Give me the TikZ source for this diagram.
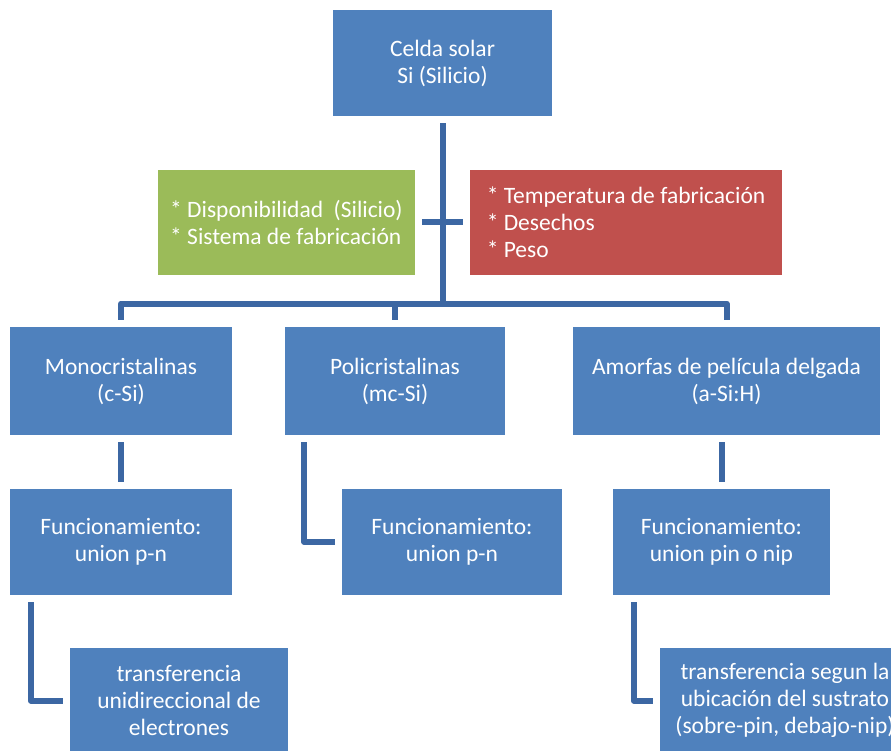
\documentclass[tikz,border=0pt]{standalone}
\usepackage{fontspec}
\setmainfont{Carlito}
\usetikzlibrary{backgrounds}
\definecolor{boxblue}{HTML}{4F81BD}
\definecolor{boxgreen}{HTML}{9BBB59}
\definecolor{boxred}{HTML}{C0504D}
\definecolor{linkblue}{HTML}{3C67A3}
\tikzstyle{cellbox} = [fill=boxblue, draw=none, text=white, rectangle,
align=center, font=\fontsize{23.5}{27}\selectfont, inner sep=4pt]
\tikzstyle{procon} = [cellbox, align=left]
\tikzstyle{link} = [draw=linkblue, line width=6pt, line join=round,
shorten <=7pt, shorten >=7pt]

\begin{document}
\begin{tikzpicture}[x=1pt, y=-1pt]
		\clip (0,0) rectangle (891,751);
		% top
		\node [cellbox, minimum width=219pt, minimum height=106pt] (celda) at (442.5,63)
			{Celda solar\\Si (Silicio)};
		\node [procon, fill=boxgreen, minimum width=257pt, minimum height=105pt] (ventajas) at (286.5,222.5)
			{* Disponibilidad \ (Silicio)\\* Sistema de fabricación};
		\node [procon, fill=boxred, minimum width=312pt, minimum height=105pt] (desventajas) at (626,222.5)
			{* Temperatura de fabricación\\* Desechos\\* Peso};
		% tipos
		\node [cellbox, minimum width=222pt, minimum height=108pt] (mono) at (121,381)
			{Monocristalinas\\(c-Si)};
		\node [cellbox, minimum width=220pt, minimum height=108pt] (poli) at (395,381)
			{Policristalinas\\(mc-Si)};
		\node [cellbox, minimum width=307pt, minimum height=108pt] (amorfa) at (726.5,381)
			{Amorfas de película delgada\\(a-Si:H)};
		% funcionamiento
		\node [cellbox, minimum width=222pt, minimum height=106pt] (funcmono) at (121,542)
			{Funcionamiento:\\union p-n};
		\node [cellbox, minimum width=220pt, minimum height=106pt] (funcpoli) at (452,542)
			{Funcionamiento:\\union p-n};
		\node [cellbox, minimum width=217pt, minimum height=106pt] (funcamorfa) at (721.5,542)
			{Funcionamiento:\\union pin o nip};
		% transferencia
		\node [cellbox, minimum width=218pt, minimum height=105pt] (transmono) at (179,700.5)
			{transferencia\\unidireccional de\\electrones};
		\node [cellbox, minimum width=250pt, minimum height=105pt] (transamorfa) at (785,700.5)
			{transferencia segun la\\ubicación del sustrato\\(sobre-pin, debajo-nip)};
		\begin{scope}[on background layer]
		\coordinate (hub) at (442.5,303.5);
		\draw [link, shorten >=0pt] (celda.south) -- (hub);
		\draw [link] (ventajas.east) -- (desventajas.west);
		\draw [link] (mono.north) -- (mono.north |- hub) -- (amorfa.north |- hub) -- (amorfa.north);
		\draw [link, shorten >=0pt] (poli.north) -- (poli.north |- hub);
		\draw [link] (mono.south) -- (funcmono.north);
		\draw [link] ([xshift=19.5pt]poli.south west) |- (funcpoli.west);
		\draw [link] (funcamorfa.north |- amorfa.south) -- (funcamorfa.north);
		\draw [link] ([xshift=21pt]funcmono.south west) |- (transmono.west);
		\draw [link] ([xshift=21pt]funcamorfa.south west) |- (transamorfa.west);
		\end{scope}
\end{tikzpicture}
\end{document}
